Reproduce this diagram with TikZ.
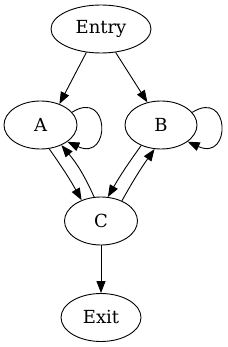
\documentclass[tikz,border=0pt]{standalone}
\usepackage{fontspec}
\setmainfont{DejaVu Serif}
\usetikzlibrary{arrows.meta,shapes.geometric}
\begin{document}
\begin{tikzpicture}[x=1pt,y=-1pt,
  st/.style={draw,ellipse,line width=0.9pt,minimum height=48pt,inner sep=0pt,font=\fontsize{18}{20}\selectfont},
  ed/.style={draw,line width=0.9pt,-{Triangle[length=12pt,width=9pt]}}]
\useasboundingbox (0,0) rectangle (227,347);
\node[st,minimum width=100pt] (entry) at (101,29) {Entry};
\node[st,minimum width=73pt] (A) at (40.5,125) {A};
\node[st,minimum width=72pt] (B) at (161,125) {B};
\node[st,minimum width=73pt] (C) at (101,221) {C};
\node[st,minimum width=80pt] (exit) at (101,317.5) {Exit};
\draw[ed] (entry.-122) -- (A.48);
\draw[ed] (entry.-58) -- (B.121);
\draw[ed] (A.22) .. controls +(38,-24) and +(44,20) .. (A.-32);
\draw[ed] (B.22) .. controls +(38,-24) and +(44,20) .. (B.-32);
\draw[ed] (A.-70) to[bend left=3] (C.133);
\draw[ed] (C.106) to[bend right=8] (A.-44);
\draw[ed] (B.-134) to[bend right=3] (C.74);
\draw[ed] (C.44) to[bend left=3] (B.-105);
\draw[ed] (C) -- (exit);
\end{tikzpicture}
\end{document}
